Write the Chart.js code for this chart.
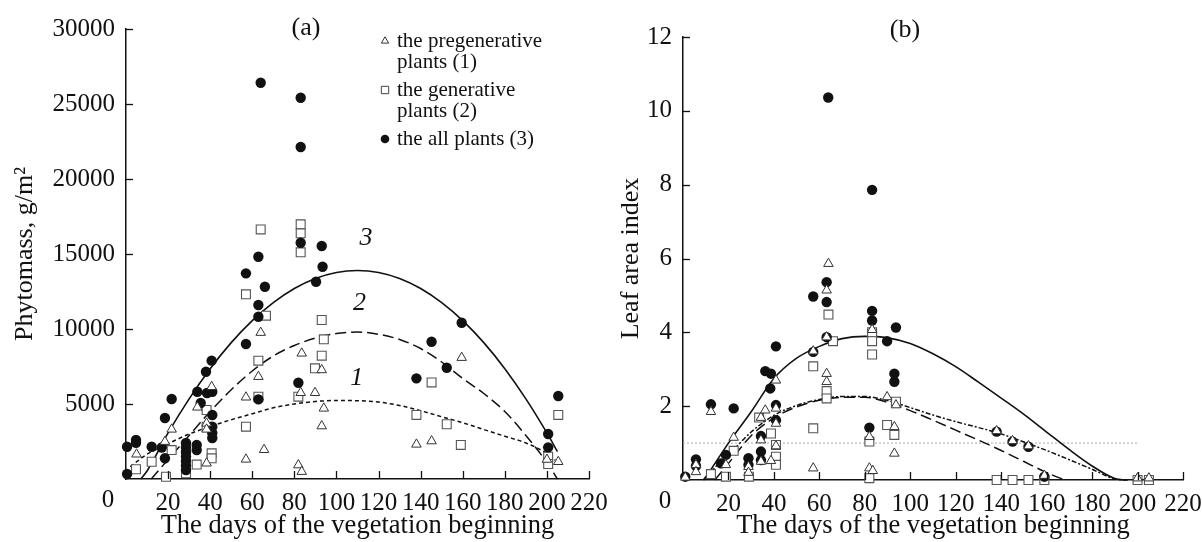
<!DOCTYPE html>
<html>
<head>
<meta charset="utf-8">
<script src="https://cdn.jsdelivr.net/npm/chart.js@4.4.0/dist/chart.umd.min.js"></script>
<style>
  html, body { margin: 0; padding: 0; background: #fff; }
  #wrap { position: relative; width: 1202px; height: 542px; overflow: hidden; }
  #cA { position: absolute; left: 0; top: 0; }
  #cB { position: absolute; left: 600px; top: 0; }
</style>
</head>
<body>
<div id="wrap">
  <canvas id="cA" width="630" height="542"></canvas>
  <canvas id="cB" width="602" height="542"></canvas>
</div>
<script>
// ---- panel (a): phytomass, g/m2 ----
const aPreDays = [5, 18.5, 21.7, 33.9, 38.3, 38.3, 38.3, 40.7, 57, 57, 62.9, 64, 65.6, 81.9, 83.5, 83.5, 83, 89.8, 93, 94, 93, 138, 145.2, 159.5, 200, 205.4];
const aPreVals = [1650, 2490, 3310, 4780, 3710, 3310, 1050, 6150, 5450, 1310, 6820, 9760, 1950, 930, 490, 8380, 5750, 5750, 7270, 4710, 3530, 2310, 2530, 8090, 1300, 1150];

const aGenDays = [4.75, 12.2, 19, 21.7, 28.5, 33.6, 38.3, 38.3, 40.7, 40.7, 57, 57, 62.9, 62.9, 64, 66.5, 81.9, 83, 83, 83, 89.8, 93, 94, 93, 138, 145.2, 152.4, 159.1, 200.6, 200.6, 205.4];
const aGenVals = [650, 1150, 150, 1930, 380, 960, 4600, 3490, 1710, 1380, 12310, 3490, 7890, 5490, 16640, 10890, 5490, 16980, 16380, 15110, 7380, 10600, 9310, 8220, 4270, 6440, 3650, 2270, 1490, 1000, 4270];

const aAllDays = [0.5, 0.5, 4.75, 4.75, 12.2, 17, 18.5, 18.5, 21.7, 28.5, 28.5, 28.5, 28.5, 28.5, 28.5, 28.5, 33.6, 33.6, 33.9, 35.5, 38, 38.5, 40.7, 41, 41, 41, 41, 41, 57, 57, 62.9, 62.9, 62.9, 62.9, 64, 66, 81.9, 83, 83, 83, 90.3, 93, 93.4, 138, 145.2, 152.4, 159.5, 200.6, 200.6, 205.4];
const aAllVals = [2150, 330, 2600, 2420, 2150, 2100, 4070, 1380, 5330, 2400, 2100, 1800, 1500, 1200, 900, 600, 2270, 1930, 5820, 5070, 7150, 5730, 7890, 5820, 4270, 3490, 3070, 2730, 13710, 9000, 14820, 11600, 10820, 5310, 26420, 12820, 6420, 25420, 22130, 15750, 13150, 15530, 14150, 6710, 9150, 7420, 10420, 3000, 2110, 5530];

// fitted curves
const aFit1Days = [2, 10, 20, 30, 40, 50, 60, 70, 80, 90, 100, 110, 120, 130, 140, 150, 160, 170, 180, 190, 200, 204];
const aFit1Vals = [820, 1650, 2350, 3000, 3500, 3950, 4350, 4750, 5000, 5170, 5230, 5220, 5130, 4900, 4550, 4150, 3750, 3300, 2850, 2400, 1700, 1250];
const aFit2Days = [12, 20, 30, 40, 50, 60, 70, 80, 90, 100, 110, 120, 130, 140, 150, 160, 170, 180, 190, 200, 205];
const aFit2Vals = [0, 1300, 2900, 4500, 5950, 7200, 8200, 8900, 9400, 9700, 9800, 9650, 9300, 8700, 7800, 6700, 5700, 4500, 2900, 1100, 0];
const aFit3Days = [7, 10, 20, 30, 40, 50, 60, 70, 80, 90, 100, 110, 120, 130, 140, 150, 160, 170, 180, 190, 200, 205];
const aFit3Vals = [0, 530, 3070, 5340, 7350, 9090, 10560, 11760, 12700, 13370, 13770, 13900, 13770, 13370, 12700, 11760, 10560, 9090, 7350, 5340, 3070, 1830];

// ---- panel (b): leaf area index ----
const bPreDays = [1, 5.7, 5.7, 12.3, 18.9, 22.3, 28.8, 28.8, 34.3, 34.3, 34.3, 36.2, 38.7, 40.9, 40.9, 40.9, 40.9, 57.3, 57.3, 64, 63.2, 63.2, 63.2, 63.2, 83.2, 82, 82, 83.5, 89.8, 93.7, 93, 93, 138, 145, 152, 159, 200, 205];
const bPreVals = [0.07, 0.41, 0.22, 1.85, 0.41, 1.15, 0.36, 0.2, 1.69, 1.08, 0.5, 1.89, 0.52, 2.7, 1.94, 1.53, 0.92, 3.49, 0.32, 5.86, 5.14, 3.87, 2.88, 2.66, 4.07, 1.17, 0.32, 0.25, 2.25, 2.03, 1.44, 0.72, 1.33, 1.06, 0.92, 0.12, 0.05, 0.05];

const bGenDays = [12.3, 18.9, 22.3, 29, 33.5, 38.7, 40.9, 40.9, 40.9, 57.3, 57.3, 64, 66, 63.2, 63.2, 83.2, 83.2, 83.2, 82, 82, 89.8, 93.7, 93, 138, 145, 152, 159, 200, 205];
const bGenVals = [0.16, 0.09, 0.79, 0.09, 1.69, 1.26, 0.95, 0.63, 0.41, 3.08, 1.4, 4.48, 3.76, 2.41, 2.21, 4.0, 3.76, 3.4, 1.04, 0.05, 1.49, 2.12, 1.22, 0, 0, 0, 0, 0, 0];

const bAllDays = [1, 5.7, 5.7, 12.3, 16.7, 18.9, 22.3, 28.8, 28.8, 34.3, 34.3, 34.3, 36.2, 38.7, 38.4, 40.9, 40.9, 40.9, 57.3, 57.3, 63.2, 63.2, 63.9, 63.2, 83.2, 83.2, 83.2, 82, 89.8, 93.7, 93, 93, 138, 145, 152, 159];
const bAllVals = [0.09, 0.56, 0.38, 2.05, 0.45, 0.68, 1.94, 0.59, 0.41, 1.19, 0.77, 0.54, 2.95, 2.88, 2.48, 3.62, 2.03, 1.62, 4.97, 3.47, 5.36, 4.82, 10.36, 3.87, 7.86, 4.58, 4.32, 1.42, 3.76, 4.13, 2.88, 2.66, 1.31, 1.04, 0.9, 0.09];

const bFit1Days = [9, 15, 22, 30, 40, 50, 60, 70, 80, 90, 100, 110, 120, 130, 140, 150, 160, 170, 180, 190, 196];
const bFit1Vals = [0, 0.4, 0.81, 1.3, 1.75, 2.02, 2.18, 2.26, 2.26, 2.15, 1.96, 1.76, 1.58, 1.42, 1.25, 1.03, 0.8, 0.55, 0.29, 0.03, 0];
const bFit2Days = [14, 20, 30, 40, 50, 60, 70, 80, 90, 100, 110, 120, 130, 140, 150, 160, 168];
const bFit2Vals = [0, 0.45, 1.2, 1.68, 1.98, 2.16, 2.24, 2.24, 2.1, 1.88, 1.62, 1.35, 1.08, 0.8, 0.5, 0.2, 0];
const bFit3Days = [9, 10, 20, 30, 40, 50, 60, 70, 80, 90, 100, 110, 120, 130, 140, 150, 160, 170, 180, 190, 195];
const bFit3Vals = [0, 0.08, 1.0, 1.85, 2.75, 3.3, 3.62, 3.83, 3.89, 3.85, 3.7, 3.42, 3.07, 2.65, 2.22, 1.78, 1.3, 0.82, 0.38, 0.04, 0];
const bRefDays = [0, 200];
const bRefVals = [1, 1];

const xTicks = [0, 220, 20];
const aYTicks = [0, 30000, 5000];
const bYTicks = [0, 12, 2];

const legendLabels = [
  ["the pregenerative", "plants (1)"],
  ["the generative", "plants (2)"],
  ["the all plants (3)"]
];

const FONT = '"Liberation Serif", "Times New Roman", serif';
Chart.defaults.font.family = FONT;
Chart.defaults.color = "#111";

function pts(xs, ys) {
  return xs.map((x, i) => ({ x: x, y: ys[i] }));
}

const triStyle = { pointStyle: "triangle", pointRadius: 5.5, backgroundColor: "#fff", borderColor: "#333", borderWidth: 1 };
const sqStyle = { pointStyle: "rect", pointRadius: 6.3, backgroundColor: "#fff", borderColor: "#555", borderWidth: 1.1 };
const dotStyle = { pointStyle: "circle", pointRadius: 5.2, backgroundColor: "#111", borderColor: "#111", borderWidth: 0 };

function curve(xs, ys, dash, width, color) {
  return {
    data: pts(xs, ys),
    showLine: true,
    pointRadius: 0,
    borderColor: color || "#111",
    borderWidth: width,
    borderDash: dash,
    cubicInterpolationMode: "monotone",
    clip: false,
  };
}

// inward tick marks, corner zero and extra texts
function decorPlugin(extra) {
  return {
    id: "decor",
    afterDraw(chart) {
      const ctx = chart.ctx;
      const area = chart.chartArea;
      const xs = chart.scales.x;
      const ys = chart.scales.y;
      ctx.save();
      ctx.strokeStyle = "#111";
      ctx.lineWidth = 1.3;
      xs.ticks.forEach((t) => {
        if (t.value === 0) return;
        const px = Math.round(xs.getPixelForValue(t.value)) + 0.5;
        ctx.beginPath();
        ctx.moveTo(px, area.bottom);
        ctx.lineTo(px, area.bottom - 8);
        ctx.stroke();
      });
      ys.ticks.forEach((t) => {
        if (t.value === 0) return;
        const py = Math.round(ys.getPixelForValue(t.value)) + 0.5;
        ctx.beginPath();
        ctx.moveTo(area.left, py);
        ctx.lineTo(area.left + 7, py);
        ctx.stroke();
      });
      ctx.fillStyle = "#111";
      ctx.font = "25px " + FONT;
      ctx.textAlign = "center";
      ctx.textBaseline = "middle";
      ctx.fillText("0", area.left - 18, area.bottom + 21);
      extra(chart, ctx, area, xs, ys);
      ctx.restore();
    },
  };
}

function axes(yTicks, yTitle, yWidth, xHeight, titlePad) {
  return {
    x: {
      type: "linear",
      min: xTicks[0],
      max: xTicks[1],
      grid: { display: false, drawTicks: false },
      border: { display: true, color: "#111", width: 1.5 },
      ticks: {
        stepSize: xTicks[2],
        padding: 9,
        autoSkip: false,
        maxRotation: 0,
        minRotation: 0,
        font: { size: 25 },
        color: "#111",
        callback: (v) => (v === 0 ? "" : v),
      },
      title: {
        display: true,
        text: "The days of the vegetation beginning",
        font: { size: 26.5 },
        color: "#111",
        padding: { top: 0, bottom: 0 },
      },
      afterFit(s) {
        s.height = xHeight;
        s.paddingLeft = 0;
        s.paddingRight = 0;
      },
    },
    y: {
      type: "linear",
      min: yTicks[0],
      max: yTicks[1],
      grid: { display: false, drawTicks: false },
      border: { display: true, color: "#111", width: 1.5 },
      ticks: {
        stepSize: yTicks[2],
        padding: 11,
        autoSkip: false,
        font: { size: 25 },
        color: "#111",
        callback: (v) => (v === 0 ? "" : v),
      },
      title: {
        display: true,
        text: yTitle,
        font: { size: 26 },
        color: "#111",
        padding: { top: titlePad, bottom: 0 },
      },
      afterFit(s) {
        s.width = yWidth;
        s.paddingTop = 0;
        s.paddingBottom = 0;
      },
    },
  };
}

const commonOpts = {
  responsive: false,
  animation: false,
  events: [],
  plugins: { legend: { display: false }, tooltip: { enabled: false } },
};

// panel (a)
new Chart(document.getElementById("cA"), {
  type: "scatter",
  data: {
    datasets: [
      Object.assign({ data: pts(aPreDays, aPreVals), clip: false }, triStyle),
      Object.assign({ data: pts(aAllDays, aAllVals), clip: false }, dotStyle),
      Object.assign({ data: pts(aGenDays, aGenVals), clip: false }, sqStyle),
      curve(aFit3Days, aFit3Vals, [], 1.6),
      curve(aFit2Days, aFit2Vals, [11, 5], 1.5),
      curve(aFit1Days, aFit1Vals, [4, 3], 1.5),
    ],
  },
  options: Object.assign({}, commonOpts, {
    layout: { padding: { left: 0, right: 41, top: 29, bottom: 0 } },
    scales: axes(aYTicks, "Phytomass, g/m\u00B2", 126, 63, 10),
  }),
  plugins: [
    decorPlugin((chart, ctx, area, xs, ys) => {
      ctx.font = "26px " + FONT;
      ctx.fillText("(a)", 306, 28);
      // curve numbers
      ctx.font = "italic 26px " + FONT;
      ctx.fillText("3", xs.getPixelForValue(114), ys.getPixelForValue(16070));
      ctx.fillText("2", xs.getPixelForValue(111), ys.getPixelForValue(11730));
      ctx.fillText("1", xs.getPixelForValue(109.6), ys.getPixelForValue(6730));
      // legend
      const styles = [
        { pointStyle: "triangle", radius: 4.2, borderWidth: 1, fill: "#fff", stroke: "#333" },
        { pointStyle: "rect", radius: 5.2, borderWidth: 1, fill: "#fff", stroke: "#444" },
        { pointStyle: "circle", radius: 4.3, borderWidth: 0, fill: "#111", stroke: "#111" },
      ];
      const rows = [41, 90, 139];
      ctx.font = "21px " + FONT;
      ctx.textAlign = "left";
      legendLabels.forEach((lines, i) => {
        const st = styles[i];
        ctx.fillStyle = st.fill;
        ctx.strokeStyle = st.stroke;
        ctx.lineWidth = st.borderWidth;
        Chart.helpers.drawPoint(ctx, { pointStyle: st.pointStyle, radius: st.radius, rotation: 0, borderWidth: st.borderWidth }, 385, rows[i]);
        ctx.fillStyle = "#111";
        lines.forEach((ln, j) => ctx.fillText(ln, 397, rows[i] + j * 21));
      });
    }),
  ],
});

// panel (b)
new Chart(document.getElementById("cB"), {
  type: "scatter",
  data: {
    datasets: [
      Object.assign({ data: pts(bPreDays, bPreVals), clip: false }, triStyle),
      Object.assign({ data: pts(bAllDays, bAllVals), clip: false }, dotStyle),
      Object.assign({ data: pts(bGenDays, bGenVals), clip: false }, sqStyle),
      curve(bFit3Days, bFit3Vals, [], 1.6),
      curve(bFit2Days, bFit2Vals, [11, 5], 1.5),
      curve(bFit1Days, bFit1Vals, [5, 2, 2, 2], 1.5),
      curve(bRefDays, bRefVals, [2, 2], 1, "#aaa"),
    ],
  },
  options: Object.assign({}, commonOpts, {
    layout: { padding: { left: 0, right: 19, top: 37, bottom: 0 } },
    scales: axes(bYTicks, "Leaf area index", 83, 62, 16),
  }),
  plugins: [
    decorPlugin((chart, ctx, area, xs, ys) => {
      ctx.font = "26px " + FONT;
      ctx.fillText("(b)", 305, 30);
    }),
  ],
});
</script>
</body>
</html>
